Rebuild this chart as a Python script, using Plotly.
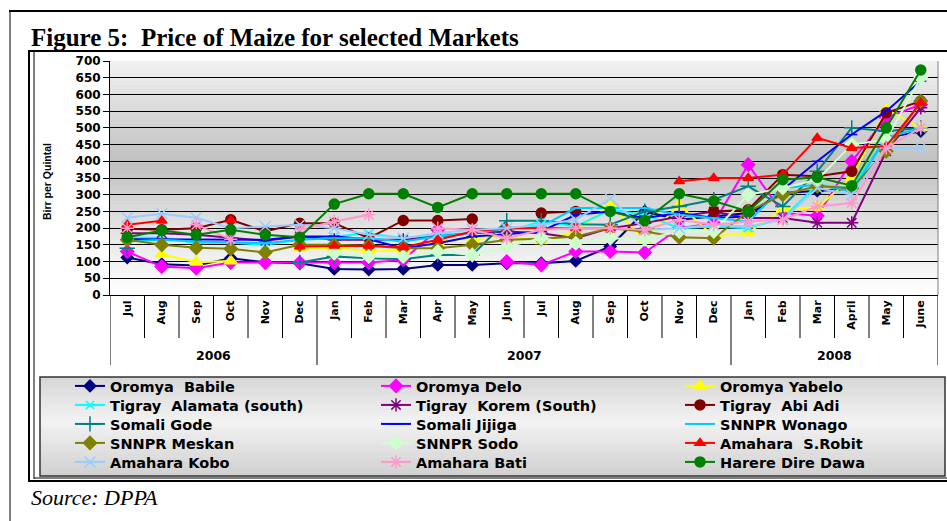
import plotly.graph_objects as go

# ---------------- data ----------------
years = ["2006"] * 6 + ["2007"] * 12 + ["2008"] * 6
months = ["Jul", "Aug", "Sep", "Oct", "Nov", "Dec",
          "Jan", "Feb", "Mar", "Apr", "May", "Jun", "Jul", "Aug", "Sep", "Oct", "Nov", "Dec",
          "Jan", "Feb", "Mar", "April", "May", "June"]
year_labels = ["2006", "2007", "2008"]
categories = [f"{m} {y}" for m, y in zip(months, years)]
y_ticks = list(range(0, 701, 50))

oromya_babile = [112, 92, 88, 110, 98, 95, 78, 76, 78, 90, 90, 95, 95, 102, 145, 250, 225, 235, 245, 305, 312, 318, 470, 490]
oromya_delo = [130, 85, 80, 97, 97, 97, 97, 97, 105, 195, None, 100, 90, 130, 130, 127, 200, 215, 390, 245, 237, 400, 530, 570]
oromya_yabelo = [None, 122, 98, 102, None, 140, 140, 132, 132, 160, 170, 175, 162, 190, 270, 165, 270, 175, 186, 258, 262, 351, 555, 500]
tigray_alamata = [171, 172, 155, 157, 150, 165, 175, 185, 170, 180, 185, 190, 220, 205, 255, 240, 200, 205, 200, 230, 330, 320, 470, 500]
tigray_korem = [185, 185, 180, 170, 162, 175, 165, 165, 165, 175, 185, 190, 185, 170, 200, 215, 235, 250, 230, 230, 216, 216, 430, 560]
tigray_abiadi = [198, 195, 200, 225, 190, 215, 215, 170, 223, 223, 227, None, 245, 250, None, None, None, 250, 255, 360, 355, 370, 545, 580]
somali_gode = [140, None, None, None, None, 97, 115, 110, 107, 120, 120, 222, 222, 212, 210, 250, 265, 285, 325, 265, 370, 500, 490, 500]
somali_jijiga = [167, 167, 165, 165, 165, 175, 175, 167, 140, 155, 175, 182, 190, 240, 250, 230, 245, 230, 235, 315, 400, 480, 550, 640]
snnpr_wonago = [160, 165, 160, 158, 155, 165, 170, 170, 160, 175, 185, 200, 205, 260, 260, 260, 240, 230, 220, 320, 330, 310, 470, 500]
snnpr_meskan = [165, 150, 141, 138, 127, 150, 150, 147, 140, 140, 150, 165, 168, 175, 200, 190, 173, 170, 250, 300, 325, 320, 430, 580]
snnpr_sodo = [None, None, None, None, None, None, 125, 115, 115, 130, 120, 145, 170, 155, 170, 167, 190, 190, 300, 320, 345, 450, 465, 650]
amahara_srobit = [210, 222, None, 223, None, 145, 147, 147, 143, 165, 190, 200, 200, 200, 200, None, 340, 350, 350, 360, 470, 440, 445, 575]
amahara_kobo = [231, 243, 231, 200, 205, 210, 200, 180, 170, 185, 195, 200, 210, 225, 288, 195, 200, 210, 205, 225, 320, 300, 440, 440]
amahara_bati = [200, None, 210, 167, None, 195, 220, 240, None, 200, 195, 170, 195, 200, 200, 195, 225, 210, 220, 225, 265, 275, 440, 500]
harere_diredawa = [173, 193, 180, 195, 180, 173, 272, 303, 303, 262, 303, 303, 303, 303, 250, 223, 303, 281, 250, 345, 352, 327, 500, 673]

series = [
    ("Oromya&nbsp; Babile", oromya_babile, "#000080", "diamond", 9),
    ("Oromya Delo", oromya_delo, "#FF00FF", "diamond", 10),
    ("Oromya Yabelo", oromya_yabelo, "#FFFF00", "triangle-up", 11),
    ("Tigray&nbsp; Alamata (south)", tigray_alamata, "#00FFFF", "x-thin-open", 8),
    ("Tigray&nbsp; Korem (South)", tigray_korem, "#800080", "asterisk-open", 11),
    ("Tigray&nbsp; Abi Adi", tigray_abiadi, "#800000", "circle", 10),
    ("Somali Gode", somali_gode, "#008080", "cross-thin-open", 11),
    ("Somali Jijiga", somali_jijiga, "#0000FF", "line-ew-open", 8),
    ("SNNPR Wonago", snnpr_wonago, "#00CCFF", "line-ew-open", 8),
    ("SNNPR Meskan", snnpr_meskan, "#808000", "diamond", 10),
    ("SNNPR Sodo", snnpr_sodo, "#CCFFCC", "diamond", 10),
    ("Amahara&nbsp; S.Robit", amahara_srobit, "#FF0000", "triangle-up", 9),
    ("Amahara Kobo", amahara_kobo, "#99CCFF", "x-thin-open", 11),
    ("Amahara Bati", amahara_bati, "#FF99CC", "asterisk-open", 11),
    ("Harere Dire Dawa", harere_diredawa, "#008000", "circle", 10),
]

# ---------------- layout geometry (pixels) ----------------
W, H = 947, 521
L, R, T, B = 110, 9, 61, 226
PW, PH = W - L - R, H - T - B


def px(x):
    return (x - L) / PW


def py(y):
    return (H - B - y) / PH


n_cols = 3
col_x = [70, 376, 680]          # legend column left edges (px)
row_y = [386, 405, 424, 443, 462]  # legend row centres (px)

fig = go.Figure()
legend_layouts = {}
legend_font = dict(family="DejaVu Sans, Verdana, sans-serif", size=14.5, color="#000000", weight="bold")
for k, (name, vals, color, sym, size) in enumerate(series):
    lid = "legend" if k == 0 else f"legend{k + 1}"
    fig.add_trace(go.Scatter(
        x=categories, y=vals, name=name, mode="lines+markers",
        connectgaps=False, legend=lid,
        line=dict(color=color, width=2),
        marker=dict(symbol=sym, size=size, color=color,
                    line=dict(color=color, width=1.5)),
    ))
    legend_layouts[lid] = dict(
        orientation="v", xanchor="left", yanchor="middle",
        x=px(col_x[k % n_cols]), y=py(row_y[k // n_cols]),
        bgcolor="rgba(0,0,0,0)", borderwidth=0, font=legend_font,
        itemsizing="trace", tracegroupgap=0)

shapes = []


def gray(v):
    v = int(round(max(0, min(255, v))))
    return f"rgb({v},{v},{v})"


# plot area gradient
n = 60
for i in range(n):
    t = (i + 0.5) / n  # 0 at top
    if t < 0.45:
        g = 242 - (242 - 190) * (t / 0.45)
    else:
        g = 190 + (255 - 190) * ((t - 0.45) / 0.55) ** 0.8
    shapes.append(dict(type="rect", xref="paper", yref="paper", layer="below",
                       x0=0, x1=1, y0=1 - (i + 1) / n - 0.002, y1=1 - i / n,
                       fillcolor=gray(g), line=dict(width=0)))

# legend box gradient
ly0, ly1 = 377, 476
m = 30
for i in range(m):
    t = (i + 0.5) / m
    g = 244 - 34 * abs(t - 0.45) / 0.55 - 2
    y_top = ly0 + (ly1 - ly0) * i / m
    y_bot = ly0 + (ly1 - ly0) * (i + 1) / m + 0.6
    shapes.append(dict(type="rect", xref="paper", yref="paper", layer="below",
                       x0=px(40), x1=px(945), y0=py(y_bot), y1=py(y_top),
                       fillcolor=gray(g), line=dict(width=0)))
shapes.append(dict(type="rect", xref="paper", yref="paper", x0=px(40), x1=px(945),
                   y0=py(ly1), y1=py(ly0), line=dict(color="#333333", width=1.5)))

# month separators and year dividers
n_cat = len(categories)
bounds_year = set()
acc = 0
for yl in year_labels:
    bounds_year.add(acc - 0.5)
    acc += years.count(yl)
bounds_year.add(acc - 0.5)
for i in range(n_cat + 1):
    b = i - 0.5
    ybot = 365 if b in bounds_year else 338
    shapes.append(dict(type="line", xref="x", yref="paper", x0=b, x1=b,
                       y0=0, y1=py(ybot), line=dict(color="#000000", width=1)))

# frames
line_k = dict(color="#000000", width=2)
shapes += [
    dict(type="line", xref="paper", yref="paper", x0=px(9), x1=px(947), y0=py(11), y1=py(11), line=line_k),
    dict(type="line", xref="paper", yref="paper", x0=px(10), x1=px(10), y0=py(11), y1=py(521), line=dict(color="#000000", width=1)),
    dict(type="line", xref="paper", yref="paper", x0=px(28), x1=px(947), y0=py(51), y1=py(51), line=line_k),
    dict(type="line", xref="paper", yref="paper", x0=px(29), x1=px(29), y0=py(51), y1=py(481), line=line_k),
    dict(type="line", xref="paper", yref="paper", x0=px(34), x1=px(34), y0=py(51), y1=py(479), line=dict(color="#000000", width=1)),
    dict(type="line", xref="paper", yref="paper", x0=px(28), x1=px(947), y0=py(481), y1=py(481), line=line_k),
    dict(type="line", xref="paper", yref="paper", x0=px(34), x1=px(947), y0=py(478), y1=py(478), line=dict(color="#000000", width=1)),
    dict(type="line", xref="paper", yref="paper", x0=1, x1=1, y0=0, y1=1, line=dict(color="#808080", width=1)),
]

bold_sans = dict(family="Liberation Sans, Arial, sans-serif", color="#000000", weight="bold")
wide_bold = dict(family="DejaVu Sans, Verdana, sans-serif", color="#000000", weight="bold")

annotations = [
    dict(text="Figure 5:&nbsp; Price of Maize for selected Markets", xref="paper", yref="paper",
         x=px(29), y=py(38), xanchor="left", yanchor="middle", showarrow=False,
         font=dict(family="Liberation Serif, Times New Roman, serif", size=25, color="#000000", weight="bold")),
    dict(text="Birr per Quintal", xref="paper", yref="paper", x=px(47), y=py(181),
         xanchor="center", yanchor="middle", textangle=-90, showarrow=False,
         font=dict(bold_sans, size=10.5)),
    dict(text="Source: DPPA", xref="paper", yref="paper", x=px(29), y=py(497),
         xanchor="left", yanchor="middle", showarrow=False,
         font=dict(family="Liberation Serif, Times New Roman, serif", size=22, color="#000000", style="italic")),
]
acc = 0
for yl in year_labels:
    cnt = years.count(yl)
    annotations.append(dict(text=yl, xref="x", yref="paper", x=acc + (cnt - 1) / 2, y=py(355),
                            xanchor="center", yanchor="middle", showarrow=False,
                            font=dict(wide_bold, size=12.5)))
    acc += cnt

fig.update_layout(
    width=W, height=H,
    margin=dict(l=L, r=R, t=T, b=B),
    paper_bgcolor="#FFFFFF", plot_bgcolor="rgba(0,0,0,0)",
    showlegend=True,
    xaxis=dict(type="category", categoryorder="array", categoryarray=categories,
               tickvals=categories, ticktext=months, tickangle=-90, range=[-0.5, n_cat - 0.5],
               showgrid=False, showline=True, linecolor="#000000", linewidth=1, ticks="",
               tickfont=dict(wide_bold, size=11), zeroline=False, fixedrange=True),
    yaxis=dict(range=[0, 700], tickvals=y_ticks, showgrid=True, gridcolor="#000000", gridwidth=1,
               showline=True, linecolor="#000000", linewidth=1, ticks="outside", ticklen=6,
               tickcolor="#000000", tickfont=dict(wide_bold, size=12), zeroline=False, fixedrange=True),
    shapes=shapes,
    annotations=annotations,
)
fig.update_layout(**legend_layouts)

fig.write_html("out.html", config={"displayModeBar": False},
               post_script="document.body.style.margin='0px';document.body.style.overflow='hidden';")
